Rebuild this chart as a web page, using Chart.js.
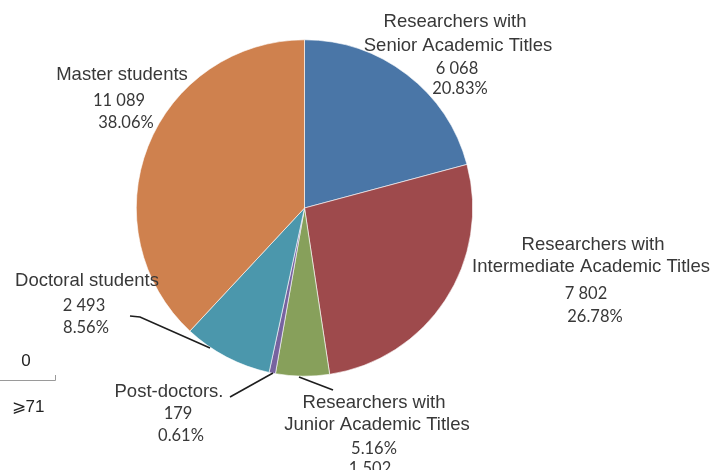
<!DOCTYPE html>
<html>
<head>
<meta charset="utf-8">
<script src="https://cdn.jsdelivr.net/npm/chart.js@4.4.1/dist/chart.umd.min.js"></script>
<style>
  html, body { margin: 0; padding: 0; background: #fff; }
  #wrap { width: 714px; height: 470px; }
</style>
</head>
<body>
<div id="wrap"><canvas id="pie" width="714" height="470"></canvas></div>
<script>
// staff / student composition
const categories = [
  ["Researchers with", "Senior Academic Titles"],
  ["Researchers with", "Intermediate Academic Titles"],
  ["Researchers with", "Junior Academic Titles"],
  ["Post-doctors."],
  ["Doctoral students"],
  ["Master students"],
];
const counts = [6068, 7802, 1502, 179, 2493, 11089];
const sliceColors = ["#4a76a7", "#9e4a4c", "#87a05b", "#7763a0", "#4b97ac", "#cf814e"];

// where each label block sits: x = centre of the block, ys = middle of each line
// order of lines: name lines, then value/percent (junior lists percent first)
const labelLayout = [
  { x: [455, 458, 457, 460], ys: [22, 46, 69, 89], pctFirst: false },
  { x: [593, 591, 586, 595], ys: [245, 267, 294, 317], pctFirst: false },
  { x: [374, 377, 374, 370], ys: [403, 425, 449, 469], pctFirst: true },
  { x: [169, 178, 181], ys: [392, 414, 436], pctFirst: false },
  { x: [87, 84, 86], ys: [281, 306, 328], pctFirst: false },
  { x: [122, 119, 126], ys: [75, 101, 123], pctFirst: false },
];
const leaders = [
  [[130, 316], [140, 317], [210, 348]],
  [[230, 397], [273, 373]],
  [[299, 377], [333, 390]],
];

const total = counts.reduce((a, b) => a + b, 0);
const fmtCount = (n) => String(n).replace(/\B(?=(\d{3})+(?!\d))/g, " ");
const fmtPct = (n) => (n / total * 100).toFixed(2) + "%";

const labelPlugin = {
  id: "sliceLabels",
  afterDraw(chart) {
    const ctx = chart.ctx;
    ctx.save();
    ctx.textAlign = "center";
    ctx.textBaseline = "middle";
    ctx.fillStyle = "#383838";
    categories.forEach((name, i) => {
      const lay = labelLayout[i];
      let k = 0;
      ctx.font = "18.5px 'Liberation Sans', Arial, sans-serif";
      name.forEach((line) => {
        ctx.fillText(line, lay.x[k], lay.ys[k]);
        k++;
      });
      ctx.font = "16.5px Lato, 'Noto Sans', sans-serif";
      const nums = lay.pctFirst
        ? [fmtPct(counts[i]), fmtCount(counts[i])]
        : [fmtCount(counts[i]), fmtPct(counts[i])];
      nums.forEach((t) => {
        ctx.fillText(t, lay.x[k], lay.ys[k]);
        k++;
      });
    });

    ctx.strokeStyle = "#1e1e1e";
    ctx.lineWidth = 1.6;
    leaders.forEach((pts) => {
      ctx.beginPath();
      pts.forEach((p, j) => (j ? ctx.lineTo(p[0], p[1]) : ctx.moveTo(p[0], p[1])));
      ctx.stroke();
    });

    // stray axis fragment at the left edge
    ctx.strokeStyle = "#9a9a9a";
    ctx.lineWidth = 1;
    ctx.beginPath();
    ctx.moveTo(0, 380.5);
    ctx.lineTo(55.5, 380.5);
    ctx.lineTo(55.5, 375);
    ctx.stroke();
    ctx.fillStyle = "#222";
    ctx.font = "17px 'Liberation Sans', Arial, sans-serif";
    ctx.fillText("0", 26, 361);
    ctx.fillText("\u2A7E71", 28, 407);
    ctx.restore();
  },
};

new Chart(document.getElementById("pie"), {
  type: "pie",
  data: {
    labels: categories.map((c) => c.join(" ")),
    datasets: [{
      data: counts,
      backgroundColor: sliceColors,
      borderColor: "#ffffff",
      borderWidth: 0.6,
    }],
  },
  options: {
    responsive: false,
    animation: false,
    layout: { padding: { left: 136, right: 241, top: 39.5, bottom: 93.5 } },
    plugins: { legend: { display: false }, tooltip: { enabled: false } },
  },
  plugins: [labelPlugin],
});
</script>
</body>
</html>
